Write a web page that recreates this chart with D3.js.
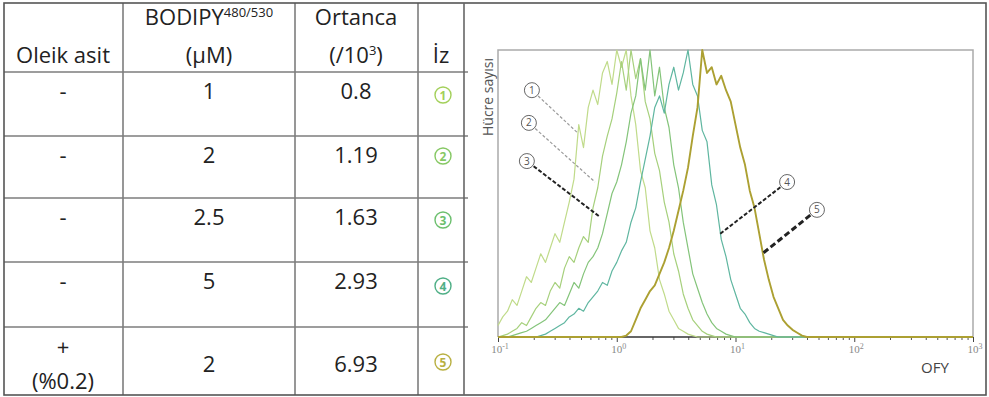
<!DOCTYPE html>
<html>
<head>
<meta charset="utf-8">
<script src="https://cdn.jsdelivr.net/npm/d3@7"></script>
<style>
  body { margin: 0; background: #fff; }
  svg { display: block; font-family: "Open Sans", sans-serif; }
</style>
</head>
<body>
<svg id="fig" width="989" height="397"></svg>
<script>
// ---- table values ----
const oleicAcid = ["-", "-", "-", "-", "+"];
const oleicNote = ["", "", "", "", "(%0.2)"];
const bodipyUM = ["1", "2", "2.5", "5", "2"];
const medianK = ["0.8", "1.19", "1.63", "2.93", "6.93"];
const traceNo = [1, 2, 3, 4, 5];
const traceColors = ["#c0db8a", "#a6d07c", "#84c47a", "#5fb6a0", "#aca032"];
const markColors = ["#a3d05a", "#86c864", "#6cbf6e", "#4faf86", "#b9b042"];

// ---- histogram: channel (log10 OFY) and counts (% of max) ----
const channelExp = [-1.00, -0.96, -0.92, -0.88, -0.84, -0.80, -0.76, -0.72, -0.68, -0.64,
  -0.60, -0.56, -0.52, -0.48, -0.44, -0.40, -0.36, -0.32, -0.28, -0.24,
  -0.20, -0.16, -0.12, -0.08, -0.04, 0.00, 0.04, 0.08, 0.12, 0.16,
  0.20, 0.24, 0.28, 0.32, 0.36, 0.40, 0.44, 0.48, 0.52, 0.56,
  0.60, 0.64, 0.68, 0.72, 0.76, 0.80, 0.84, 0.88, 0.92, 0.96,
  1.00, 1.04, 1.08, 1.12, 1.16, 1.20, 1.24, 1.28, 1.32, 1.36,
  1.40, 1.44, 1.48, 1.52, 1.56, 1.60, 3.00];

const trace1 = [4, 7, 9, 13, 11, 16, 21, 19, 24, 29,
  26, 31, 36, 33, 40, 47, 55, 74, 66, 80,
  86, 81, 92, 96, 88, 100, 94, 100, 84, 74,
  58, 52, 37, 31, 20, 15, 9, 6, 3, 2,
  1, 0.5, 0, 0, 0, 0, 0, 0, 0, 0,
  0, 0, 0, 0, 0, 0, 0, 0, 0, 0,
  0, 0, 0, 0, 0, 0, 0];
const trace2 = [0, 0.5, 1, 2, 3, 5, 4, 7, 10, 12,
  11, 16, 19, 17, 24, 28, 26, 31, 35, 33,
  45, 52, 63, 70, 76, 85, 96, 86, 100, 90,
  97, 82, 76, 64, 58, 47, 40, 29, 23, 15,
  10, 6, 4, 2, 1, 0.5, 0, 0, 0, 0,
  0, 0, 0, 0, 0, 0, 0, 0, 0, 0,
  0, 0, 0, 0, 0, 0, 0];
const trace3 = [0, 0, 0, 0.5, 1, 1.5, 2, 3, 4, 5,
  6, 8, 10, 12, 11, 15, 19, 17, 22, 26,
  28, 31, 36, 43, 50, 54, 60, 68, 78, 84,
  97, 86, 100, 84, 94, 80, 73, 60, 52, 40,
  31, 22, 17, 12, 8, 5, 3, 2, 1, 0.5,
  0, 0, 0, 0, 0, 0, 0, 0, 0, 0,
  0, 0, 0, 0, 0, 0, 0];
const trace4 = [0, 0, 0, 0, 0, 0, 0, 0, 0, 0.5,
  1, 2, 3, 4, 5, 7, 8, 10, 9, 12,
  14, 16, 19, 18, 23, 26, 30, 33, 40, 45,
  54, 62, 70, 80, 84, 78, 88, 94, 86, 92,
  100, 88, 84, 72, 68, 53, 46, 34, 28, 20,
  15, 10, 8, 5, 3, 2, 1.5, 1, 0.5, 0,
  0, 0, 0, 0, 0, 0, 0];
const trace5 = [0, 0, 0, 0, 0, 0, 0, 0, 0, 0,
  0, 0, 0, 0, 0, 0, 0, 0, 0, 0,
  0, 0, 0, 0, 0, 0, 0, 0.5, 2, 6,
  10, 13, 16, 18, 22, 26, 31, 37, 44, 51,
  59, 70, 80, 100, 92, 94, 88, 91, 86, 82,
  74, 66, 60, 51, 45, 36, 27, 20, 14, 10,
  6, 4, 2.5, 1.5, 0.5, 0, 0];
const traces = [trace1, trace2, trace3, trace4, trace5];

const xMajorTicks = [0.1, 1, 10, 100, 1000];
const xMajorExp = ["-1", "0", "1", "2", "3"];

// leader labels: circle position and pointed trace position, in data units [OFY, count]
const labelAt = [[0.193, 86], [0.182, 74.6], [0.175, 61.3], [27.2, 54], [48.5, 44.3]];
const labelTo = [[0.472, 71], [0.656, 54], [0.723, 41.8], [7.4, 35.9], [16.7, 28.9]];
const leaderStyle = [
  {c: "#9a9a9a", w: 1.2, d: "3,2"},
  {c: "#9a9a9a", w: 1.2, d: "3,2"},
  {c: "#222", w: 2, d: "4,2"},
  {c: "#222", w: 2, d: "4,2"},
  {c: "#222", w: 3, d: "6,3"}
];

const svg = d3.select("#fig");

// ---- table ----
const colX = [4, 123, 295, 418, 464];
const rowY = [3, 72, 136, 198, 262, 327, 395];
const colMid = [63, 209, 356, 441];

svg.selectAll(".hline").data(rowY.slice(1, -1)).enter().append("line")
  .attr("x1", 4).attr("x2", 468)
  .attr("y1", d => d).attr("y2", d => d)
  .attr("stroke", "#7d7d7d").attr("stroke-width", 1.6);
svg.selectAll(".vline").data(colX.slice(1, -1)).enter().append("line")
  .attr("x1", d => d).attr("x2", d => d)
  .attr("y1", 3).attr("y2", 395)
  .attr("stroke", "#7d7d7d").attr("stroke-width", 1.6);
// outer frame and panel divider
svg.append("rect").attr("x", 4).attr("y", 3).attr("width", 982).attr("height", 392)
  .attr("fill", "none").attr("stroke", "#555").attr("stroke-width", 1.6);
svg.append("line").attr("x1", 464).attr("x2", 464).attr("y1", 3).attr("y2", 395)
  .attr("stroke", "#666").attr("stroke-width", 1.6);

const head = svg.append("g").attr("font-size", 22).attr("fill", "#222").attr("text-anchor", "middle");
head.append("text").attr("x", colMid[0]).attr("y", 63).text("Oleik asit");
let t = head.append("text").attr("x", colMid[1]).attr("y", 25);
t.append("tspan").text("BODIPY");
t.append("tspan").attr("dy", -8).attr("font-size", 13).text("480/530");
head.append("text").attr("x", colMid[1]).attr("y", 63).text("(µM)");
head.append("text").attr("x", colMid[2]).attr("y", 25).text("Ortanca");
t = head.append("text").attr("x", colMid[2]).attr("y", 63);
t.append("tspan").text("(/10");
t.append("tspan").attr("dy", -8).attr("font-size", 13).text("3");
t.append("tspan").attr("dy", 8).text(")");
head.append("text").attr("x", colMid[3]).attr("y", 63).text("İz");

const rowBase = [99, 163, 225, 289, 372];
const markY = [95, 156, 220, 286, 362];
const body = svg.append("g").attr("font-size", 22).attr("fill", "#222").attr("text-anchor", "middle");
traceNo.forEach((n, i) => {
  if (oleicNote[i]) {
    body.append("text").attr("x", colMid[0]).attr("y", 355).text(oleicAcid[i]);
    body.append("text").attr("x", colMid[0]).attr("y", 389).text(oleicNote[i]);
  } else {
    body.append("text").attr("x", colMid[0]).attr("y", rowBase[i]).text(oleicAcid[i]);
  }
  body.append("text").attr("x", colMid[1]).attr("y", rowBase[i]).text(bodipyUM[i]);
  body.append("text").attr("x", colMid[2]).attr("y", rowBase[i]).text(medianK[i]);
  const g = svg.append("g").attr("transform", `translate(${colMid[3] + 2},${markY[i]})`);
  g.append("circle").attr("r", 8).attr("fill", "none")
    .attr("stroke", markColors[i]).attr("stroke-width", 1.4);
  g.append("text").attr("y", 4.5).attr("text-anchor", "middle").attr("font-size", 12)
    .attr("font-weight", "bold").attr("fill", markColors[i]).text(n);
});

// ---- histogram panel ----
const x = d3.scaleLog().domain([0.1, 1000]).range([498, 973]);
const y = d3.scaleLinear().domain([0, 100]).range([337, 50]);

svg.append("defs").append("clipPath").attr("id", "plotclip")
  .append("rect").attr("x", 497).attr("y", 49).attr("width", 477).attr("height", 290);

const line = d3.line()
  .x(d => x(Math.pow(10, d[0])))
  .y(d => y(d[1]));

// x axis: ticks and decade labels
const minorTicks = [];
xMajorTicks.slice(0, -1).forEach(dec => [2, 3, 4, 5, 6, 7, 8, 9].forEach(k => minorTicks.push(dec * k)));
svg.append("g").attr("transform", "translate(0,337)")
  .call(d3.axisBottom(x).tickValues(minorTicks).tickSize(3).tickFormat(""))
  .call(g => g.select(".domain").remove())
  .call(g => g.selectAll("line").attr("stroke", "#555"));
svg.append("g").attr("transform", "translate(0,337)")
  .call(d3.axisBottom(x).tickValues(xMajorTicks).tickSize(5).tickFormat(""))
  .call(g => g.select(".domain").remove())
  .call(g => g.selectAll("line").attr("stroke", "#444"));

const lab = svg.append("g").attr("font-family", "'Liberation Serif', serif")
  .attr("fill", "#888").attr("text-anchor", "middle");
xMajorTicks.forEach((v, i) => {
  const tx = lab.append("text").attr("x", x(v) + 2).attr("y", 353).attr("font-size", 11);
  tx.append("tspan").text("10");
  tx.append("tspan").attr("dy", -4).attr("font-size", 8).text(xMajorExp[i]);
});

// frame
svg.append("path")
  .attr("d", `M${x(0.1)},${y(0)}V${y(100)}H${x(1000)}V${y(0)}`)
  .attr("fill", "none").attr("stroke", "#aaa").attr("stroke-width", 1.5);
svg.append("line").attr("x1", x(0.1)).attr("x2", x(1000)).attr("y1", y(0)).attr("y2", y(0))
  .attr("stroke", "#333").attr("stroke-width", 1.5);

// traces
const plot = svg.append("g").attr("clip-path", "url(#plotclip)");
traces.forEach((tr, i) => {
  plot.append("path")
    .datum(channelExp.map((e, j) => [e, tr[j]]))
    .attr("d", line)
    .attr("fill", "none")
    .attr("stroke", traceColors[i])
    .attr("stroke-width", i === 4 ? 1.9 : 1.2)
    .attr("stroke-linejoin", "round");
});

// leaders with circled numbers
traceNo.forEach((n, i) => {
  const cx = x(labelAt[i][0]), cy = y(labelAt[i][1]);
  const tx = x(labelTo[i][0]), ty = y(labelTo[i][1]);
  const len = Math.hypot(tx - cx, ty - cy);
  const r = 7.5;
  svg.append("line")
    .attr("x1", cx + (tx - cx) / len * (r + 1)).attr("y1", cy + (ty - cy) / len * (r + 1))
    .attr("x2", tx).attr("y2", ty)
    .attr("stroke", leaderStyle[i].c).attr("stroke-width", leaderStyle[i].w)
    .attr("stroke-dasharray", leaderStyle[i].d);
  svg.append("circle").attr("cx", cx).attr("cy", cy).attr("r", r)
    .attr("fill", "#fff").attr("stroke", "#666").attr("stroke-width", 1);
  svg.append("text").attr("x", cx).attr("y", cy + 3.5).attr("text-anchor", "middle")
    .attr("font-size", 10).attr("fill", "#555").text(n);
});

// axis titles
svg.append("text").attr("transform", "translate(493,97) rotate(-90)")
  .attr("text-anchor", "middle").attr("font-size", 14).attr("fill", "#555").text("Hücre sayısı");
svg.append("text").attr("x", 935).attr("y", 373).attr("text-anchor", "middle")
  .attr("font-size", 15).attr("fill", "#444").text("OFY");
</script>
</body>
</html>
